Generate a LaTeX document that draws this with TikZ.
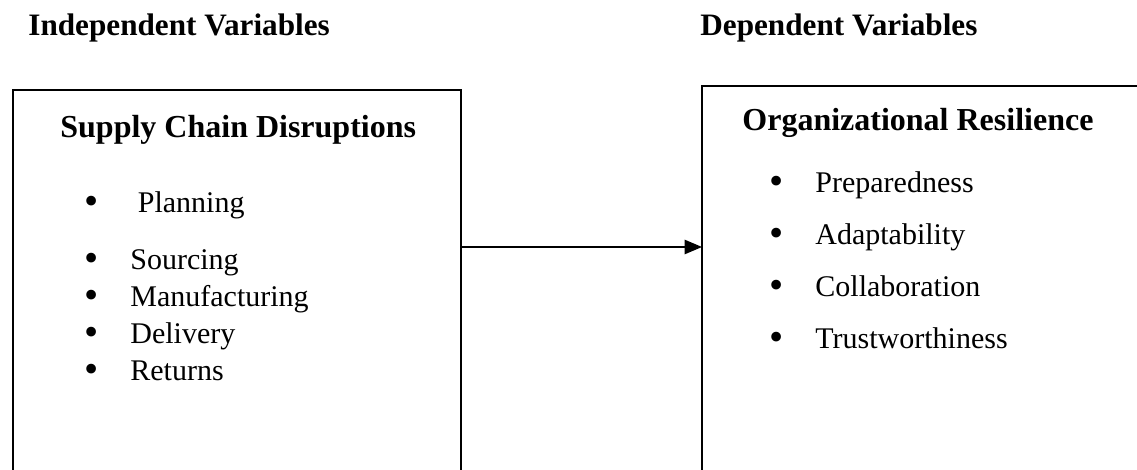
\documentclass[tikz,border=0pt]{standalone}
\usepackage{fontspec}
\setmainfont{Liberation Serif}
\usetikzlibrary{arrows, positioning}
\tikzstyle{arrow}     = [line width=1pt,->,>=triangle 45]
\tikzstyle{boxline}   = [line width=1.1pt]
\tikzstyle{heading}   = [font=\fontsize{15.6}{18}\selectfont\bfseries, inner sep=0pt, anchor=base west]
\tikzstyle{boxtitle}  = [font=\fontsize{16}{19}\selectfont\bfseries, inner sep=0pt, anchor=base west]
\tikzstyle{item}      = [font=\fontsize{15}{17}\selectfont, inner sep=0pt, anchor=base west]
\newcommand{\itm}[1]{\makebox[23pt][l]{\raisebox{-0.8pt}{\scalebox{1.35}{\textbullet}}}#1}

\begin{document}
\begin{tikzpicture}[x=0.5pt, y=-0.5pt]
\useasboundingbox (0,0) rectangle (1137,470);

\node[heading] (IV) at (28,36) {Independent Variables};
\node[heading] (DV) at (700,36) {Dependent Variables};

% left box
\draw[boxline] (13,470) -- (13,90) -- (461,90) -- (461,470);
\node[boxtitle] (SCD) at (60,138) {Supply Chain Disruptions};
\node[item] (P1) at (84,213) {\itm{\ Planning}};
\node[item] (P2) at (84,270) {\itm{Sourcing}};
\node[item] (P3) at (84,307) {\itm{Manufacturing}};
\node[item] (P4) at (84,344) {\itm{Delivery}};
\node[item] (P5) at (84,381) {\itm{Returns}};

% right box
\draw[boxline] (702,470) -- (702,86) -- (1137,86);
\node[boxtitle] (OR) at (742,131) {Organizational Resilience};
\node[item] (R1) at (769,193) {\itm{Preparedness}};
\node[item] (R2) at (769,245) {\itm{Adaptability}};
\node[item] (R3) at (769,297) {\itm{Collaboration}};
\node[item] (R4) at (769,349) {\itm{Trustworthiness}};

\coordinate (L) at (461,247);
\coordinate (R) at (702,247);
\draw[arrow] (L) -- (R);

\end{tikzpicture}
\end{document}
